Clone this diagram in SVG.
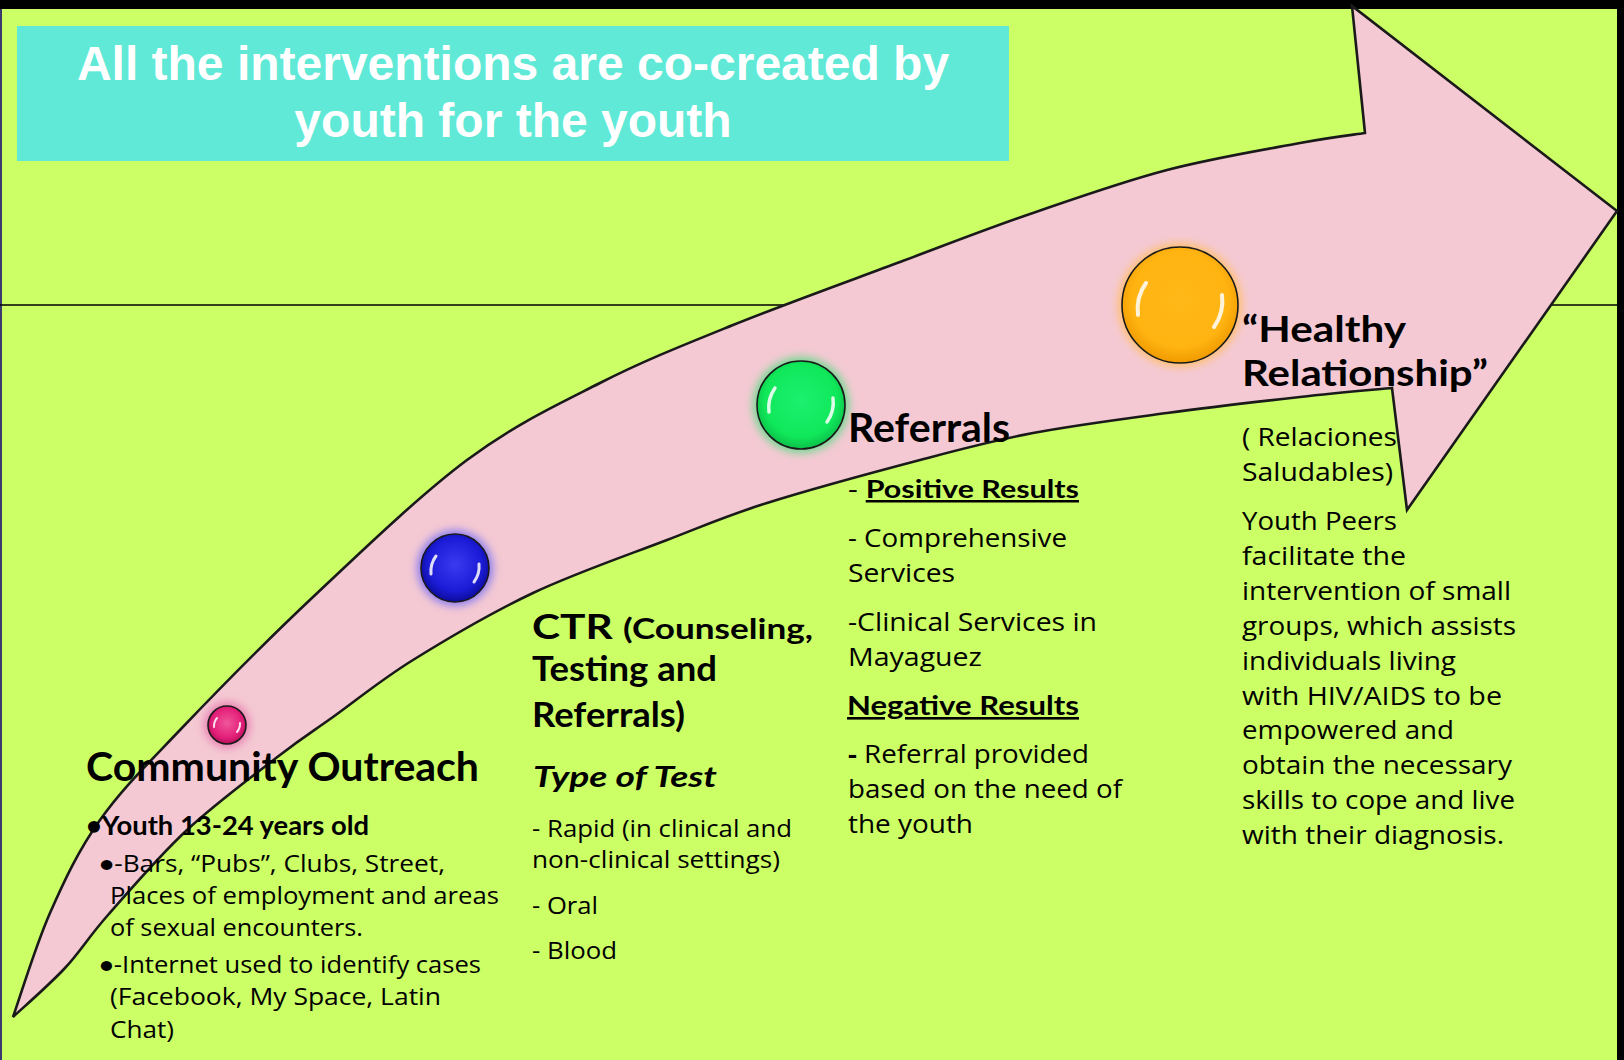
<svg xmlns="http://www.w3.org/2000/svg" width="1624" height="1060" viewBox="0 0 1624 1060">
<style>
.title{font-family:"Liberation Sans",Arial,sans-serif;font-weight:bold;font-size:48px;fill:#fff;text-anchor:middle}
.t{font-family:"Open Sans","Noto Sans","Liberation Sans",sans-serif;fill:#000}
.hd{font-family:Lato,"Open Sans","Liberation Sans",sans-serif;font-weight:bold;fill:#000}
.blt{font-family:Lato,"Open Sans",sans-serif;font-weight:bold;font-size:23px}
.b{font-weight:bold}
.i{font-style:italic}
.u{text-decoration:underline}
.c23{font-size:23px}
.c25{font-size:25px}
.h40{font-size:41px}
.h35{font-size:35px}
.h29{font-size:29px}
.h26{font-size:26px}
.h37{font-size:37px}
.orb{stroke:#1a1a1a;stroke-width:1.6}
.hl{fill:none;stroke:#fff;stroke-linecap:round;opacity:0.85}
</style>
<defs>
<filter id="glow" x="-50%" y="-50%" width="200%" height="200%"><feGaussianBlur stdDeviation="4"/></filter>
<radialGradient id="gPink" cx="50%" cy="45%" r="55%"><stop offset="0" stop-color="#f0569a"/><stop offset="0.7" stop-color="#e4207a"/><stop offset="1" stop-color="#b8105a"/></radialGradient>
<radialGradient id="gBlue" cx="50%" cy="45%" r="55%"><stop offset="0" stop-color="#3a3af0"/><stop offset="0.7" stop-color="#1c1cd8"/><stop offset="1" stop-color="#0c0c9c"/></radialGradient>
<radialGradient id="gGreen" cx="50%" cy="45%" r="55%"><stop offset="0" stop-color="#1cf070"/><stop offset="0.75" stop-color="#10e85a"/><stop offset="1" stop-color="#0cc04a"/></radialGradient>
<radialGradient id="gOrange" cx="50%" cy="45%" r="55%"><stop offset="0" stop-color="#ffb818"/><stop offset="0.75" stop-color="#ffb412"/><stop offset="1" stop-color="#f09a00"/></radialGradient>
</defs>

<g id="background">
<rect x="0" y="0" width="1624" height="1060" fill="#000"/>
<rect x="0" y="9" width="1617" height="1051" fill="#ccff66"/>
<rect x="0" y="9" width="2" height="1051" fill="#3a3a6e"/>
<line x1="0" y1="305" x2="1617" y2="305" stroke="#000" stroke-width="1.5"/>
</g>

<g id="connectors">
<path id="arrow" fill="#f4c9d3" stroke="#1a1a1a" stroke-width="2.6" stroke-linejoin="miter" d="M13,1017 C19.2,999.7 35.5,945.8 50,913 C64.5,880.2 78.3,850.5 100,820 C121.7,789.5 144.5,767.2 180,730 C215.5,692.8 265.2,642 313,597 C360.8,552 419.2,495.7 467,460 C514.8,424.3 555.7,405.5 600,383 C644.3,360.5 683,345.2 733,325 C783,304.8 850.5,280.5 900,262 C949.5,243.5 985.5,229.3 1030,214 C1074.5,198.7 1122,181.8 1167,170 C1212,158.2 1267,149.2 1300,143 C1333,136.8 1354.2,134.7 1365,133 L1352,6 L1617,211 L1407,510 L1392,388 C1376.7,389.5 1337.5,392.8 1300,397 C1262.5,401.2 1211.5,407 1167,413 C1122.5,419 1074.2,425.2 1033,433 C991.8,440.8 964.3,448.3 920,460 C875.7,471.7 809.2,489.7 767,503 C724.8,516.3 706,525 667,540 C628,555 575.3,573 533,593 C490.7,613 446.3,639.3 413,660 C379.7,680.7 355.2,701.2 333,717 C310.8,732.8 304.3,736.2 280,755 C255.7,773.8 215.7,803.3 187,830 C158.3,856.7 128.3,892 108,915 C87.7,938 80.8,951 65,968 C49.2,985 21.7,1008.8 13,1017 Z"/>
</g>

<g id="title">
<rect x="17" y="26" width="992" height="135" fill="#60e9d7"/>
<text class="title" x="513" y="80">All the interventions are co-created by</text>
<text class="title" x="513" y="137">youth for the youth</text>
</g>

<g id="node-outreach">
<circle cx="227" cy="725" r="23" fill="#e880b0" filter="url(#glow)"/>
<circle class="orb" cx="227" cy="725" r="19" fill="url(#gPink)"/>
<path class="hl" stroke-width="2" d="M214,727 A13,13 0 0 1 217,718"/>
<path class="hl" stroke-width="2" d="M240,723 A13,13 0 0 1 237,732"/>
<text class="hd h40" x="86" y="781" textLength="393" lengthAdjust="spacingAndGlyphs">Community Outreach</text>
<text class="hd h26" x="86" y="835" textLength="283" lengthAdjust="spacingAndGlyphs">•Youth 13-24 years old</text>
<text class="t c23" x="99" y="872" textLength="346" lengthAdjust="spacingAndGlyphs"><tspan class="blt">•</tspan>-Bars, “Pubs”, Clubs, Street,</text>
<text class="t c23" x="110" y="904" textLength="389" lengthAdjust="spacingAndGlyphs">Places of employment and areas</text>
<text class="t c23" x="110" y="936" textLength="253" lengthAdjust="spacingAndGlyphs">of sexual encounters.</text>
<text class="t c23" x="99" y="973" textLength="382" lengthAdjust="spacingAndGlyphs"><tspan class="blt">•</tspan>-Internet used to identify cases</text>
<text class="t c23" x="110" y="1005" textLength="331" lengthAdjust="spacingAndGlyphs">(Facebook, My Space, Latin</text>
<text class="t c23" x="110" y="1038" textLength="64" lengthAdjust="spacingAndGlyphs">Chat)</text>
</g>

<g id="node-ctr">
<circle cx="455" cy="568" r="38" fill="#8a7cf0" filter="url(#glow)"/>
<circle class="orb" cx="455" cy="568" r="34" fill="url(#gBlue)"/>
<path class="hl" stroke-width="3" d="M431,574 A26,26 0 0 1 436,556"/>
<path class="hl" stroke-width="3" d="M479,564 A26,26 0 0 1 474,582"/>
<text class="hd" x="532" y="639" textLength="281" lengthAdjust="spacingAndGlyphs"><tspan class="h35">CTR </tspan><tspan class="h29">(Counseling,</tspan></text>
<text class="hd h35" x="532" y="681" textLength="185" lengthAdjust="spacingAndGlyphs">Testing and</text>
<text class="hd h35" x="532" y="727" textLength="153" lengthAdjust="spacingAndGlyphs">Referrals)</text>
<text class="hd i h29" x="533" y="787" textLength="184" lengthAdjust="spacingAndGlyphs">Type of Test</text>
<text class="t c23" x="532" y="837" textLength="260" lengthAdjust="spacingAndGlyphs">- Rapid (in clinical and</text>
<text class="t c23" x="532" y="868" textLength="248" lengthAdjust="spacingAndGlyphs">non-clinical settings)</text>
<text class="t c23" x="532" y="914" textLength="66" lengthAdjust="spacingAndGlyphs">- Oral</text>
<text class="t c23" x="532" y="959" textLength="85" lengthAdjust="spacingAndGlyphs">- Blood</text>
</g>

<g id="node-referrals">
<circle cx="801" cy="405" r="48" fill="#70d890" filter="url(#glow)"/>
<circle class="orb" cx="801" cy="405" r="44" fill="url(#gGreen)"/>
<path class="hl" stroke-width="3.5" d="M769,412 A34,34 0 0 1 775,388"/>
<path class="hl" stroke-width="3.5" d="M833,398 A34,34 0 0 1 827,422"/>
<text class="hd h40" x="848" y="442" textLength="162" lengthAdjust="spacingAndGlyphs">Referrals</text>
<text class="t c25" x="848" y="498" textLength="231" lengthAdjust="spacingAndGlyphs">- <tspan class="hd u">Positive Results</tspan></text>
<text class="t c25" x="848" y="547" textLength="219" lengthAdjust="spacingAndGlyphs">- Comprehensive</text>
<text class="t c25" x="848" y="582" textLength="107" lengthAdjust="spacingAndGlyphs">Services</text>
<text class="t c25" x="848" y="631" textLength="249" lengthAdjust="spacingAndGlyphs">-Clinical Services in</text>
<text class="t c25" x="848" y="666" textLength="134" lengthAdjust="spacingAndGlyphs">Mayaguez</text>
<text class="hd u" style="font-size:26px" x="847" y="715" textLength="232" lengthAdjust="spacingAndGlyphs">Negative Results</text>
<text class="t c25" x="848" y="763" textLength="241" lengthAdjust="spacingAndGlyphs"><tspan class="b">-</tspan> Referral provided</text>
<text class="t c25" x="848" y="798" textLength="274" lengthAdjust="spacingAndGlyphs">based on the need of</text>
<text class="t c25" x="848" y="833" textLength="125" lengthAdjust="spacingAndGlyphs">the youth</text>
</g>

<g id="node-healthy">
<circle cx="1180" cy="305" r="62" fill="#ffc070" filter="url(#glow)"/>
<circle class="orb" cx="1180" cy="305" r="58" fill="url(#gOrange)"/>
<path class="hl" stroke-width="4" d="M1138,315 A45,45 0 0 1 1146,283"/>
<path class="hl" stroke-width="4" d="M1222,295 A45,45 0 0 1 1214,327"/>
<text class="hd h37" x="1242" y="342" textLength="164" lengthAdjust="spacingAndGlyphs">“Healthy</text>
<text class="hd h37" x="1242" y="386" textLength="246" lengthAdjust="spacingAndGlyphs">Relationship”</text>
<text class="t c25" x="1242" y="446" textLength="155" lengthAdjust="spacingAndGlyphs">( Relaciones</text>
<text class="t c25" x="1242" y="481" textLength="151" lengthAdjust="spacingAndGlyphs">Saludables)</text>
<text class="t c25" x="1242" y="530" textLength="155" lengthAdjust="spacingAndGlyphs">Youth Peers</text>
<text class="t c25" x="1242" y="565" textLength="164" lengthAdjust="spacingAndGlyphs">facilitate the</text>
<text class="t c25" x="1242" y="600" textLength="269" lengthAdjust="spacingAndGlyphs">intervention of small</text>
<text class="t c25" x="1242" y="635" textLength="274" lengthAdjust="spacingAndGlyphs">groups, which assists</text>
<text class="t c25" x="1242" y="670" textLength="214" lengthAdjust="spacingAndGlyphs">individuals living</text>
<text class="t c25" x="1242" y="705" textLength="260" lengthAdjust="spacingAndGlyphs">with HIV/AIDS to be</text>
<text class="t c25" x="1242" y="739" textLength="212" lengthAdjust="spacingAndGlyphs">empowered and</text>
<text class="t c25" x="1242" y="774" textLength="270" lengthAdjust="spacingAndGlyphs">obtain the necessary</text>
<text class="t c25" x="1242" y="809" textLength="273" lengthAdjust="spacingAndGlyphs">skills to cope and live</text>
<text class="t c25" x="1242" y="844" textLength="262" lengthAdjust="spacingAndGlyphs">with their diagnosis.</text>
</g>
</svg>
